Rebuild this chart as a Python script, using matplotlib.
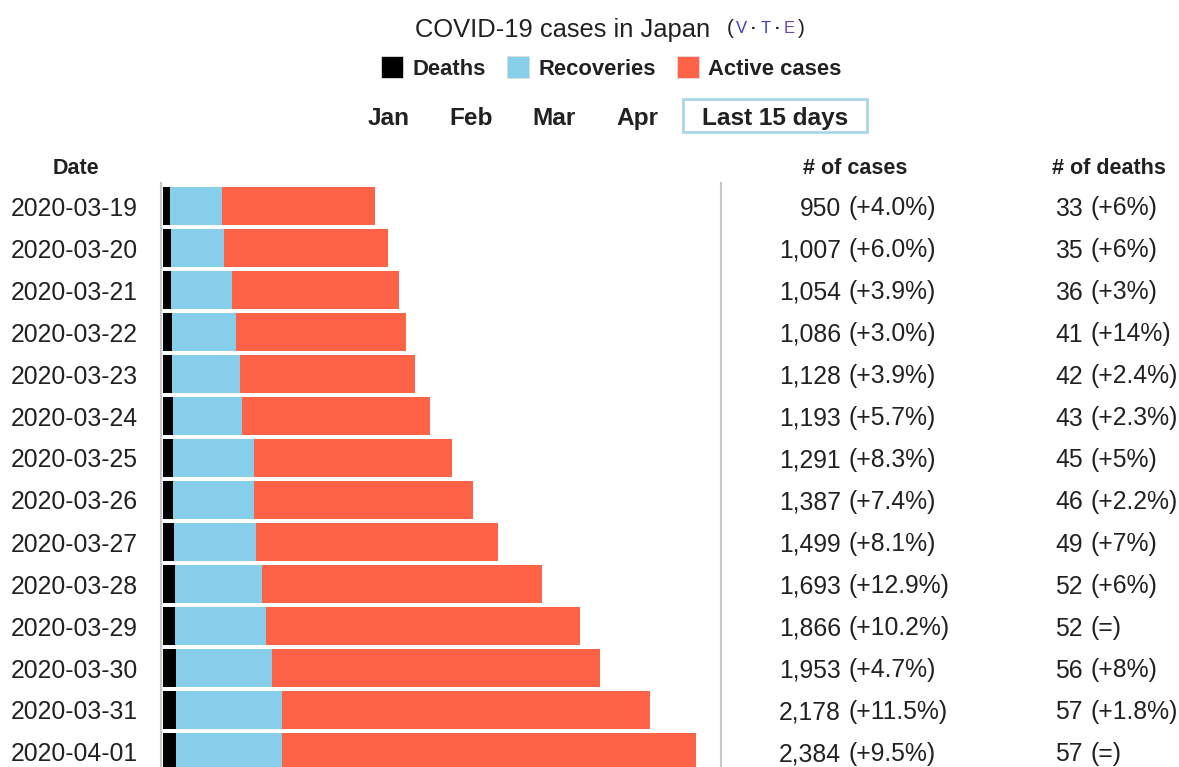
import matplotlib
matplotlib.use("Agg")
import matplotlib.pyplot as plt
from matplotlib.patches import Rectangle
from matplotlib.lines import Line2D
from matplotlib.transforms import blended_transform_factory

plt.rcParams['font.family'] = ['Liberation Sans', 'DejaVu Sans']

dates = ["2020-03-19", "2020-03-20", "2020-03-21", "2020-03-22", "2020-03-23",
         "2020-03-24", "2020-03-25", "2020-03-26", "2020-03-27", "2020-03-28",
         "2020-03-29", "2020-03-30", "2020-03-31", "2020-04-01"]
cases = [950, 1007, 1054, 1086, 1128, 1193, 1291, 1387, 1499, 1693, 1866, 1953, 2178, 2384]
deaths = [33, 35, 36, 41, 42, 43, 45, 46, 49, 52, 52, 56, 57, 57]
# recoveries
recoveries = [231, 238, 273, 285, 302, 310, 362, 361, 367, 391, 409, 431, 475, 475]
cases_pct = ["(+4.0%)", "(+6.0%)", "(+3.9%)", "(+3.0%)", "(+3.9%)", "(+5.7%)", "(+8.3%)",
             "(+7.4%)", "(+8.1%)", "(+12.9%)", "(+10.2%)", "(+4.7%)", "(+11.5%)", "(+9.5%)"]
deaths_pct = ["(+6%)", "(+6%)", "(+3%)", "(+14%)", "(+2.4%)", "(+2.3%)", "(+5%)",
              "(+2.2%)", "(+7%)", "(+6%)", "(=)", "(+8%)", "(+1.8%)", "(=)"]
months = ["Jan", "Feb", "Mar", "Apr"]

active = [c - d - r for c, d, r in zip(cases, deaths, recoveries)]
rec_left = deaths
act_left = [d + r for d, r in zip(deaths, recoveries)]

W, H = 1179, 767
fig = plt.figure(figsize=(W / 100, H / 100), dpi=100)
fig.patch.set_facecolor("white")

txt = "#202122"
fs = 17.8

def fx(px):
    return px / W

def fy(py):
    return 1 - py / H

# bar area: left edge at 163 px, top at 185 px
ax = fig.add_axes([fx(163), 0, fx(720 - 163), (H - 185) / H])
ax.set_xlim(0, (720 - 163) / 0.2236)
ax.set_ylim((H - 206) / 42, -0.5)
ax.axis("off")

rows = list(range(len(dates)))
bh = 38 / 42
ax.barh(rows, deaths, height=bh, color="black")
ax.barh(rows, recoveries, left=rec_left, height=bh, color="#87ceeb")
ax.barh(rows, active, left=act_left, height=bh, color="#ff6347")

tr = blended_transform_factory(fig.transFigure, ax.transData)
for i in rows:
    ax.text(fx(138), i, dates[i], transform=tr, ha="right", va="center_baseline",
            fontsize=fs, color=txt)
    ax.text(fx(841), i, f"{cases[i]:,}", transform=tr, ha="right", va="center_baseline",
            fontsize=fs, color=txt)
    ax.text(fx(848), i, cases_pct[i], transform=tr, ha="left", va="center_baseline",
            fontsize=fs, color=txt)
    ax.text(fx(1083), i, f"{deaths[i]}", transform=tr, ha="right", va="center_baseline",
            fontsize=fs, color=txt)
    ax.text(fx(1090), i, deaths_pct[i], transform=tr, ha="left", va="center_baseline",
            fontsize=fs, color=txt)

# separators
for xp in (161, 721):
    fig.add_artist(Line2D([fx(xp), fx(xp)], [0, fy(183)], color="#c8c8c8", lw=1.5))

# headers
hfs = 15.5
fig.text(fx(75.5), fy(166), "Date", ha="center", va="center_baseline", fontsize=hfs,
         fontweight="bold", color=txt)
fig.text(fx(855), fy(166), "# of cases", ha="center", va="center_baseline", fontsize=hfs,
         fontweight="bold", color=txt)
fig.text(fx(1109), fy(166), "# of deaths", ha="center", va="center_baseline", fontsize=hfs,
         fontweight="bold", color=txt)

# title
fig.text(fx(710), fy(27), "COVID-19 cases in Japan", ha="right", va="center_baseline",
         fontsize=18.4, color=txt)
fig.text(fx(727), fy(27), "(", ha="left", va="center_baseline", fontsize=15, color=txt)
for ch, xc, col in [("V", 741, "#3f3fa8"), ("·", 754, txt), ("T", 766, "#3f3fa8"),
                    ("·", 778, txt), ("E", 789, "#6a4a9c")]:
    fig.text(fx(xc), fy(27), ch, ha="center", va="center_baseline", fontsize=12,
             fontweight="bold" if ch == "·" else "normal", color=col)
fig.text(fx(798), fy(27), ")", ha="left", va="center_baseline", fontsize=15, color=txt)

# legend
legend = [("Deaths", "black", 381), ("Recoveries", "#87ceeb", 507), ("Active cases", "#ff6347", 677)]
for label, col, xp in legend:
    fig.add_artist(Rectangle((fx(xp), fy(78)), fx(22), 22 / H, facecolor=col,
                             edgecolor="#dddddd", lw=0.6, transform=fig.transFigure))
    fig.text(fx(xp + 31), fy(67), label, ha="left", va="center_baseline", fontsize=15.8,
             fontweight="bold", color=txt)

# range buttons
for m, xc in zip(months, [389, 471, 554, 637]):
    fig.text(fx(xc), fy(116), m, ha="center", va="center_baseline", fontsize=17.6,
             fontweight="bold", color=txt)
fig.add_artist(Rectangle((fx(683), fy(132)), fx(184), 33 / H, facecolor="white",
                         edgecolor="#a7d7e6", lw=2, transform=fig.transFigure))
fig.text(fx(775), fy(116), "Last 15 days", ha="center", va="center_baseline", fontsize=17.6,
         fontweight="bold", color=txt)

fig.savefig("out.png", dpi=100, facecolor="white")
